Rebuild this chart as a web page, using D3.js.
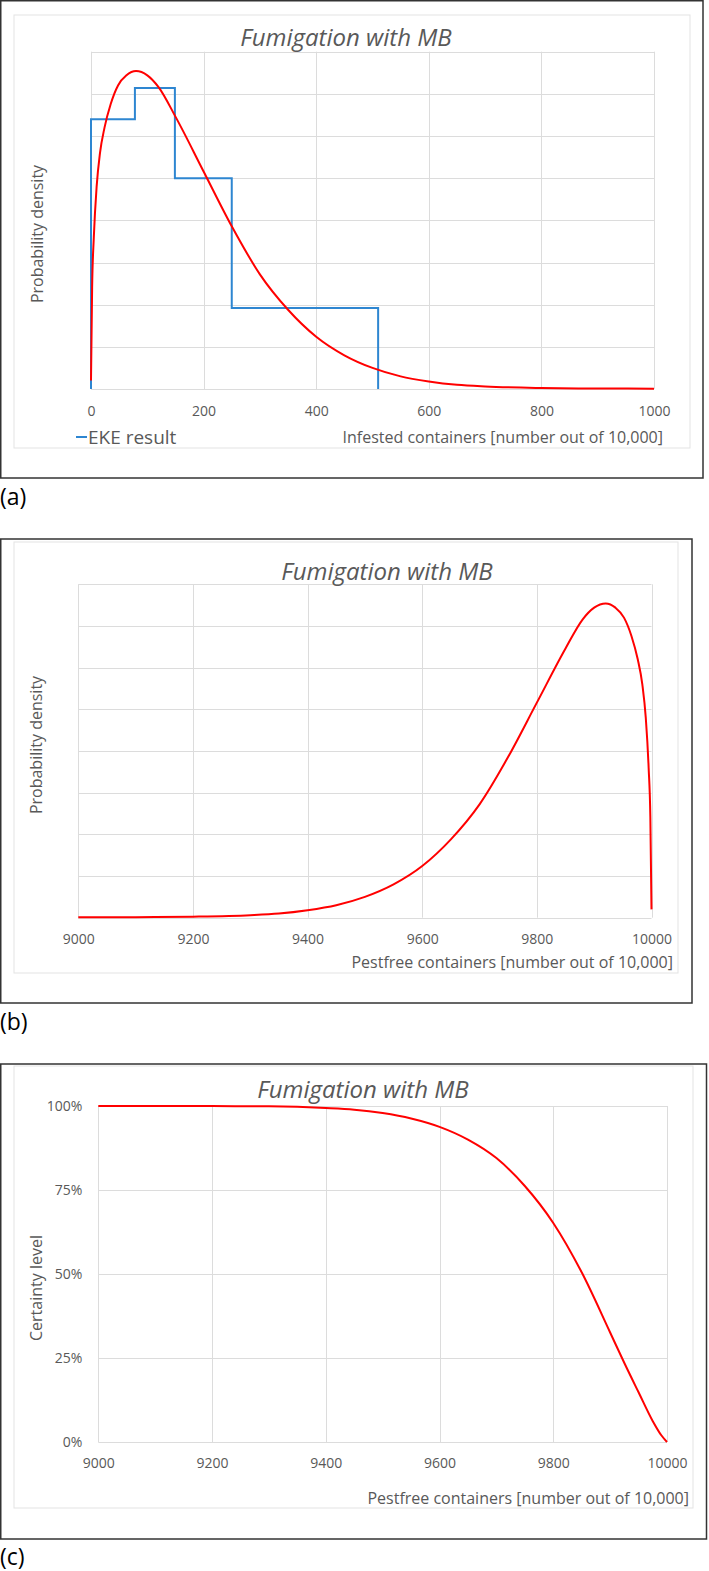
<!DOCTYPE html>
<html>
<head>
<meta charset="utf-8">
<script src="https://cdn.jsdelivr.net/npm/d3@7"></script>
<style>
  body { margin: 0; background: #fff; }
  text { font-family: "Open Sans", sans-serif; }
</style>
</head>
<body>
<svg width="709" height="1571"></svg>
<script>
// infested containers (out of 10,000) vs fitted probability density (a)/(b)
var infestedX = [0, 2, 5, 10, 16, 24, 35, 48, 63, 80, 100, 120, 150, 200, 250, 300, 350, 400, 450, 500, 550, 600, 650, 700, 800, 900, 1000];
var densityY = [0.0001, 0.0012, 0.0018, 0.0024, 0.0028, 0.0031, 0.00338, 0.0036, 0.00372, 0.00377, 0.00372, 0.00358, 0.00323, 0.00258, 0.00193, 0.00136, 0.00094, 0.00062, 0.0004, 0.00025, 0.00015, 0.00009, 0.00005, 0.00003, 0.000012, 0.000006, 0.000004];

// EKE result histogram (bin edges + density of each bin)
var ekeEdges = [0, 78, 149, 250, 510];
var ekeDensity = [0.0032, 0.00357, 0.0025, 0.00096];

// certainty level (%) vs pestfree containers, panel (c)
var certaintyX = [9000, 9100, 9200, 9300, 9400, 9450, 9500, 9550, 9600, 9650, 9700, 9750, 9800, 9850, 9900, 9925, 9950, 9975, 9990, 10000];
var certaintyY = [100, 100, 99.98, 99.9, 99.4, 98.9, 97.9, 96.3, 93.8, 90, 84.5, 76.2, 65.2, 50.5, 32.6, 23.5, 14.8, 6.2, 2, 0];

var infestedTicks = [0, 200, 400, 600, 800, 1000];
var pestfreeTicks = [9000, 9200, 9400, 9600, 9800, 10000];
var densityGrid = [0, 0.0005, 0.001, 0.0015, 0.002, 0.0025, 0.003, 0.0035, 0.004];
var certaintyTicks = [0, 25, 50, 75, 100];

var titleText = "Fumigation with MB";
var grey = "#595959";

var svg = d3.select("svg");

function drawPanel(o) {
    var g = svg.append("g");

    g.append("rect")
        .attr("x", o.box[0]).attr("y", o.box[1])
        .attr("width", o.box[2] - o.box[0]).attr("height", o.box[3] - o.box[1])
        .attr("fill", "none").attr("stroke", "#333").attr("stroke-width", 1.5);

    g.append("rect")
        .attr("x", o.area[0]).attr("y", o.area[1])
        .attr("width", o.area[2] - o.area[0]).attr("height", o.area[3] - o.area[1])
        .attr("fill", "none").attr("stroke", "#e3e3e3").attr("stroke-width", 1);

    var x = d3.scaleLinear().domain(o.xDomain).range([o.plot[0], o.plot[2]]);
    var y = d3.scaleLinear().domain(o.yDomain).range([o.plot[3], o.plot[1]]);

    // gridlines
    g.append("g").selectAll("line").data(o.yGrid).join("line")
        .attr("x1", o.plot[0]).attr("x2", o.plot[2])
        .attr("y1", function (d) { return Math.round(y(d)) + 0.5; })
        .attr("y2", function (d) { return Math.round(y(d)) + 0.5; })
        .attr("stroke", "#dcdcdc");
    g.append("g").selectAll("line").data(o.xTicks).join("line")
        .attr("y1", o.plot[1]).attr("y2", o.plot[3])
        .attr("x1", function (d) { return Math.round(x(d)) + 0.5; })
        .attr("x2", function (d) { return Math.round(x(d)) + 0.5; })
        .attr("stroke", "#dcdcdc");

    // x tick labels
    g.append("g")
        .attr("transform", "translate(0," + o.plot[3] + ")")
        .call(d3.axisBottom(x).tickValues(o.xTicks).tickSize(0).tickPadding(o.tickPad).tickFormat(d3.format("d")))
        .call(function (s) { s.select(".domain").remove(); })
        .selectAll("text")
        .attr("fill", grey)
        .style("font-size", "14px")
        .style("font-family", "'Open Sans', sans-serif");

    if (o.yTicks) {
        g.append("g")
            .attr("transform", "translate(" + (o.plot[0] - 10) + ",0)")
            .call(d3.axisLeft(y).tickValues(o.yTicks).tickSize(0).tickPadding(6).tickFormat(function (d) { return d + "%"; }))
            .call(function (s) { s.select(".domain").remove(); })
            .selectAll("text")
            .attr("fill", grey)
            .style("font-size", "14px")
            .style("font-family", "'Open Sans', sans-serif");
    }

    // title
    g.append("text")
        .attr("x", o.title[0]).attr("y", o.title[1])
        .attr("dy", "0.35em")
        .attr("text-anchor", "middle")
        .attr("fill", grey)
        .style("font-size", "24px")
        .style("font-style", "italic")
        .text(titleText);

    // axis titles
    g.append("text")
        .attr("x", o.xLabel[0]).attr("y", o.xLabel[1])
        .attr("dy", "0.35em")
        .attr("text-anchor", "end")
        .attr("fill", grey)
        .style("font-size", "16px")
        .text(o.xTitle);

    g.append("text")
        .attr("transform", "translate(" + o.yLabel[0] + "," + o.yLabel[1] + ") rotate(-90)")
        .attr("dy", "0.35em")
        .attr("text-anchor", "middle")
        .attr("fill", grey)
        .style("font-size", "16px")
        .text(o.yTitle);

    // panel letter
    svg.append("text")
        .attr("x", 0).attr("y", o.letter)
        .attr("dy", "0.35em")
        .attr("fill", "#000")
        .style("font-size", "23px")
        .text(o.letterText);

    return { g: g, x: x, y: y };
}

// ---- (a) ----
var a = drawPanel({
    box: [0.75, 0.75, 703, 478], area: [14, 15, 690, 448],
    plot: [91, 51.7, 654, 389],
    xDomain: [0, 1000], yDomain: [0, 0.004],
    xTicks: infestedTicks, yGrid: densityGrid, tickPad: 17,
    title: [346, 38], xLabel: [663, 437], yLabel: [37, 234],
    xTitle: "Infested containers [number out of 10,000]",
    yTitle: "Probability density",
    letter: 497, letterText: "(a)"
});

var ekePoints = [[0, 0]];
ekeDensity.forEach(function (d, i) { ekePoints.push([ekeEdges[i], d]); });
ekePoints.push([ekeEdges[ekeEdges.length - 1], 0]);

a.g.append("path")
    .datum(ekePoints)
    .attr("fill", "none")
    .attr("stroke", "#2e86d1")
    .attr("stroke-width", 2)
    .attr("d", d3.line()
        .x(function (d) { return a.x(d[0]); })
        .y(function (d) { return a.y(d[1]); })
        .curve(d3.curveStepAfter));

var densityData = infestedX.map(function (v, i) { return [v, densityY[i]]; });

a.g.append("path")
    .datum(densityData)
    .attr("fill", "none")
    .attr("stroke", "#ff0000")
    .attr("stroke-width", 2)
    .attr("d", d3.line()
        .x(function (d) { return a.x(d[0]); })
        .y(function (d) { return a.y(d[1]); })
        .curve(d3.curveMonotoneX));

// legend
a.g.append("line")
    .attr("x1", 76).attr("x2", 87).attr("y1", 437).attr("y2", 437)
    .attr("stroke", "#2e86d1").attr("stroke-width", 2);
a.g.append("text")
    .attr("x", 88).attr("y", 437).attr("dy", "0.35em")
    .attr("fill", grey)
    .style("font-size", "19px")
    .text("EKE result");

// ---- (b) ----
var b = drawPanel({
    box: [0.75, 539, 692, 1003], area: [14, 542, 678, 973],
    plot: [78.3, 584.3, 651.5, 917.7],
    xDomain: [9000, 10000], yDomain: [0, 0.004],
    xTicks: pestfreeTicks, yGrid: densityGrid, tickPad: 16,
    title: [387, 572], xLabel: [673, 962], yLabel: [36, 745],
    xTitle: "Pestfree containers [number out of 10,000]",
    yTitle: "Probability density",
    letter: 1022, letterText: "(b)"
});

// pestfree = 10,000 - infested
var pestfreeData = densityData.map(function (d) { return [10000 - d[0], d[1]]; }).reverse();

b.g.append("path")
    .datum(pestfreeData)
    .attr("fill", "none")
    .attr("stroke", "#ff0000")
    .attr("stroke-width", 2)
    .attr("d", d3.line()
        .x(function (d) { return b.x(d[0]); })
        .y(function (d) { return b.y(d[1]); })
        .curve(d3.curveMonotoneX));

// ---- (c) ----
var c = drawPanel({
    box: [0.75, 1064, 706.5, 1539], area: [14, 1066, 693, 1508],
    plot: [98.3, 1106, 667, 1442],
    xDomain: [9000, 10000], yDomain: [0, 100],
    xTicks: pestfreeTicks, yGrid: certaintyTicks, yTicks: certaintyTicks, tickPad: 16,
    title: [363, 1090], xLabel: [689, 1498], yLabel: [36, 1288],
    xTitle: "Pestfree containers [number out of 10,000]",
    yTitle: "Certainty level",
    letter: 1557, letterText: "(c)"
});

var certaintyData = certaintyX.map(function (v, i) { return [v, certaintyY[i]]; });

c.g.append("path")
    .datum(certaintyData)
    .attr("fill", "none")
    .attr("stroke", "#ff0000")
    .attr("stroke-width", 2)
    .attr("d", d3.line()
        .x(function (d) { return c.x(d[0]); })
        .y(function (d) { return c.y(d[1]); })
        .curve(d3.curveMonotoneX));
</script>
</body>
</html>
